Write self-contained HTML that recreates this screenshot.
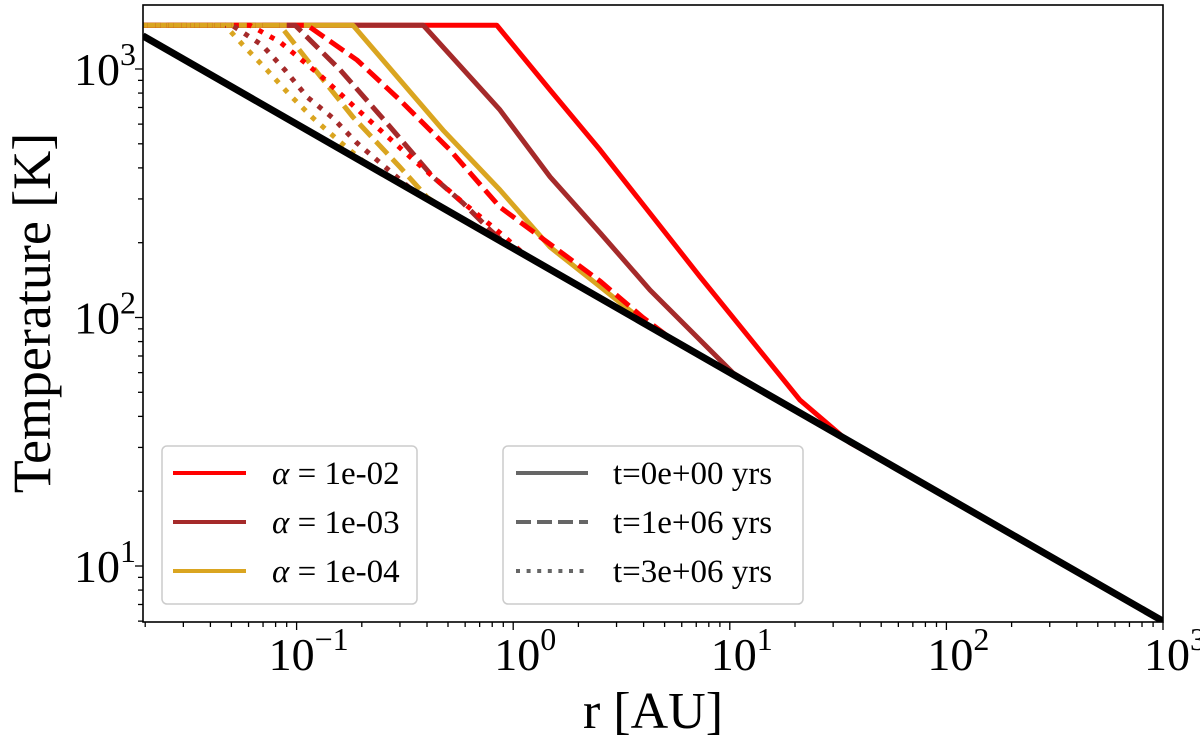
<!DOCTYPE html>
<html><head><meta charset="utf-8"><style>
html,body{margin:0;padding:0;background:#fff;}
svg{display:block;}
text{font-family:"Liberation Serif",serif;fill:#000;}
</style></head><body>
<svg id="chart" width="1200" height="737" viewBox="0 0 1200 737" xmlns="http://www.w3.org/2000/svg">
<defs><clipPath id="clip"><rect x="143" y="5" width="1020" height="617"/></clipPath></defs>
<g id="curves" clip-path="url(#clip)"></g>
<rect x="143" y="5" width="1020" height="617" fill="none" stroke="#000" stroke-width="1.6"/>
<g id="ticks"></g>
<text x="653" y="728" font-size="52" text-anchor="middle">r [AU]</text>
<text transform="translate(50,313) rotate(-90)" font-size="54" text-anchor="middle">Temperature [K]</text>
<g>
<rect x="162" y="446" width="255" height="158" rx="5" fill="#fff" fill-opacity="0.8" stroke="#ccc" stroke-width="1.5"/>
<g><line x1="173" y1="473" x2="246" y2="473" stroke="#ff0000" stroke-width="4"/><text x="272" y="484" font-size="33"><tspan font-style="italic">α</tspan> = 1e-02</text></g>
<g><line x1="173" y1="522" x2="246" y2="522" stroke="#a52a2a" stroke-width="4"/><text x="272" y="533" font-size="33"><tspan font-style="italic">α</tspan> = 1e-03</text></g>
<g><line x1="173" y1="571" x2="246" y2="571" stroke="#daa520" stroke-width="4"/><text x="272" y="582" font-size="33"><tspan font-style="italic">α</tspan> = 1e-04</text></g>
</g>
<g>
<rect x="503" y="446" width="300" height="158" rx="5" fill="#fff" fill-opacity="0.8" stroke="#ccc" stroke-width="1.5"/>
<g><line x1="516" y1="473" x2="588" y2="473" stroke="#666" stroke-width="4"/><text x="613" y="484" font-size="33">t=0e+00 yrs</text></g>
<g><line x1="516" y1="522" x2="588" y2="522" stroke="#666" stroke-width="4" stroke-dasharray="15,6"/><text x="613" y="533" font-size="33">t=1e+06 yrs</text></g>
<g><line x1="516" y1="571" x2="588" y2="571" stroke="#666" stroke-width="4" stroke-dasharray="4,6.6"/><text x="613" y="582" font-size="33">t=3e+06 yrs</text></g>
</g>
</svg>
<script>
// Data (r in AU, T in K)
const passiveR = [0.0195, 1000];
const passiveT = [1360, 6.0];
const redSolidR = [0.0195, 0.84, 1.48, 2.52, 7.28, 21.1, 35.9, 61, 1000];
const redSolidT = [1500, 1500, 823, 472, 146, 46.5, 31.3, 24.3, 6.0];
const brownSolidR = [0.0195, 0.384, 0.869, 1.48, 2.52, 4.28, 10.35, 17.6, 1000];
const brownSolidT = [1500, 1500, 684, 368, 219, 129, 59.8, 45.3, 6.0];
const goldSolidR = [0.0195, 0.182, 0.474, 0.869, 1.48, 2.52, 4.28, 1000];
const goldSolidT = [1500, 1500, 568, 326, 192, 133, 92, 6.0];
const redDashR = [0.0195, 0.112, 0.190, 0.300, 0.511, 0.869, 2.52, 3.97, 5.47, 1000];
const redDashT = [1500, 1500, 1087, 750, 472, 278, 140, 100, 81, 6.0];
const brownDashR = [0.0195, 0.0984, 0.159, 0.261, 0.426, 0.586, 0.782, 0.936, 1000];
const brownDashT = [1500, 1500, 991, 606, 368, 289, 225, 196, 6.0];
const goldDashR = [0.0195, 0.0838, 0.112, 0.182, 0.300, 0.400, 0.474, 1000];
const goldDashT = [1500, 1500, 1087, 641, 403, 305, 276, 6.0];
const redDotR = [0.0195, 0.0609, 0.0838, 0.128, 0.192, 0.334, 0.568, 0.869, 1.13, 1000];
const redDotT = [1500, 1500, 1284, 946, 684, 443, 297, 219, 179, 6.0];
const brownDotR = [0.0195, 0.0503, 0.0692, 0.0883, 0.112, 0.147, 0.190, 0.290, 0.344, 1000];
const brownDotT = [1500, 1500, 1249, 991, 771, 635, 504, 368, 324, 6.0];
const goldDotR = [0.0195, 0.0467, 0.0565, 0.0730, 0.0931, 0.119, 0.159, 0.211, 1000];
const goldDotT = [1500, 1500, 1249, 991, 786, 635, 508, 414, 6.0];
const xTickExps = [-1, 0, 1, 2, 3];
const yTickExps = [1, 2, 3];

const X0 = 143, X1 = 1163, Y0 = 5, Y1 = 622;
const xMinLog = 3 - (X1 - X0) / 216.6, xMaxLog = 3;
const yMaxLog = 3 + (69 - Y0) / 248.5, yMinLog = 3 - (Y1 - 69) / 248.5;
function xs(r){ return X0 + (Math.log10(r) - xMinLog) / (xMaxLog - xMinLog) * (X1 - X0); }
function ys(t){ return Y1 - (Math.log10(t) - yMinLog) / (yMaxLog - yMinLog) * (Y1 - Y0); }
const NS = "http://www.w3.org/2000/svg";
const curves = document.getElementById('curves');
function draw(R, T, color, dash, width, name){
  const p = document.createElementNS(NS, 'path');
  p.setAttribute('d', R.map((r,i)=>(i?'L':'M')+xs(r).toFixed(2)+','+ys(T[i]).toFixed(2)).join(''));
  p.setAttribute('fill','none');
  p.setAttribute('stroke',color);
  p.setAttribute('stroke-width',width);
  p.setAttribute('stroke-linejoin','round');
  if (dash) p.setAttribute('stroke-dasharray',dash);
  
  
  curves.appendChild(p);
}
draw(redSolidR, redSolidT, '#ff0000', null, 5, 'curve-alpha-1e-02-t0');
draw(brownSolidR, brownSolidT, '#a52a2a', null, 5, 'curve-alpha-1e-03-t0');
draw(goldSolidR, goldSolidT, '#daa520', null, 5, 'curve-alpha-1e-04-t0');
draw(redDashR, redDashT, '#ff0000', '17,7', 5, 'curve-alpha-1e-02-t1e6');
draw(brownDashR, brownDashT, '#a52a2a', '17,7', 5, 'curve-alpha-1e-03-t1e6');
draw(goldDashR, goldDashT, '#daa520', '17,7', 5, 'curve-alpha-1e-04-t1e6');
draw(redDotR, redDotT, '#ff0000', '5,8', 5, 'curve-alpha-1e-02-t3e6');
draw(brownDotR, brownDotT, '#a52a2a', '5,8', 5, 'curve-alpha-1e-03-t3e6');
draw(goldDotR, goldDotT, '#daa520', '5,8', 5, 'curve-alpha-1e-04-t3e6');
draw(passiveR, passiveT, '#000000', null, 7, 'passive-temperature-line');

const ticks = document.getElementById('ticks');
function line(x1,y1,x2,y2,name){
  const l = document.createElementNS(NS,'line');
  l.setAttribute('x1',x1);l.setAttribute('y1',y1);l.setAttribute('x2',x2);l.setAttribute('y2',y2);
  l.setAttribute('stroke','#000');l.setAttribute('stroke-width','1.3');
  
  
  ticks.appendChild(l);
}
function label(x,y,e,anchor,name){
  const t = document.createElementNS(NS,'text');
  t.setAttribute('x',x);t.setAttribute('y',y);t.setAttribute('font-size','46');t.setAttribute('text-anchor',anchor);
  t.innerHTML = '10<tspan font-size="32" dy="-20">'+(e<0?'\u2212'+(-e):e)+'</tspan>';
  
  
  ticks.appendChild(t);
}
for (let d = -2; d <= 2; d++) for (let m = 2; m <= 9; m++){
  const r = m * Math.pow(10,d), x = xs(r);
  if (x > X0 && x < X1) line(x,Y1,x,Y1+5,'x-minor-tick');
}
for (let d = 0; d <= 3; d++) for (let m = 2; m <= 9; m++){
  const t = m * Math.pow(10,d), y = ys(t);
  if (y > Y0 && y < Y1) line(X0,y,X0-5,y,'y-minor-tick');
}
xTickExps.forEach(e=>{ const x = xs(Math.pow(10,e)); line(x,Y1,x,Y1+8,'x-major-tick'); label(x+12,670,e,'middle','x-tick-label'); });
yTickExps.forEach(e=>{ const y = ys(Math.pow(10,e)); line(X0,y,X0-8,y,'y-major-tick'); label(136,y+16,e,'end','y-tick-label'); });
</script>
</body></html>
